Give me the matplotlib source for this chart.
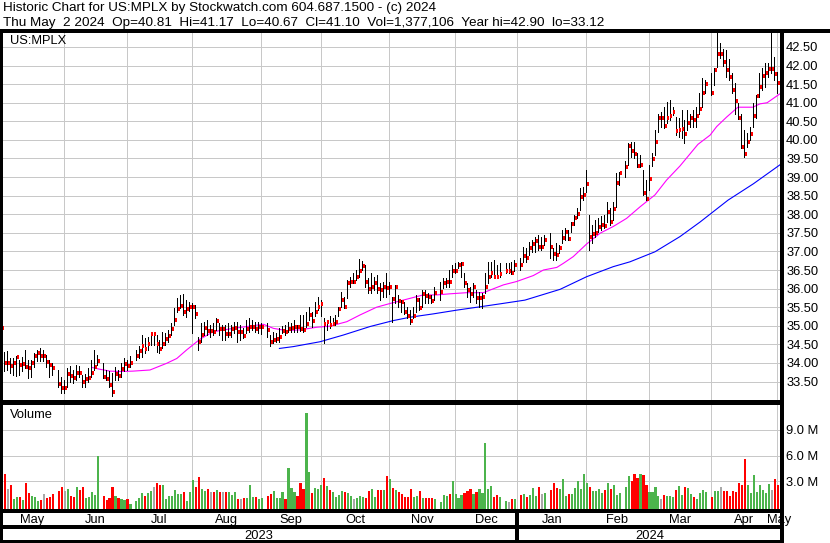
import numpy as np
import pandas as pd
import matplotlib
matplotlib.use('Agg')
import matplotlib.pyplot as plt
from matplotlib.transforms import blended_transform_factory

plt.rcParams['font.family'] = ['Liberation Sans', 'DejaVu Sans']

# one slot per weekday, May 3 2023 .. May 2 2024 (None = market holiday)
days = pd.bdate_range('2023-05-03', '2024-05-02')

close = [
    # May 2023
    34.95, 33.99, 33.99, 33.93, 33.99, 34.17, 33.95, 33.97, 33.90, 33.87, 33.99, 34.20, 34.26, 34.20, 34.20, 34.03, 33.94, 33.86, None, 33.43, 33.33,
    # Jun
    33.33, 33.70, 33.65, 33.60, 33.74, 33.72, 33.50, 33.58, 33.60, 33.74, 33.88, 34.06, None, 33.63, 33.58, 33.41, 33.23, 33.69, 33.66, 33.84, 33.97, 33.92,
    # Jul
    34.01, None, 34.19, 34.32, 34.46, 34.37, 34.51, 34.78, 34.78, 34.51, 34.37, 34.51, 34.64, 34.73, 34.91, 35.15, 35.45, 35.53, 35.36, 35.45, 35.50,
    # Aug
    35.51, 35.33, 34.55, 34.76, 34.94, 34.87, 34.87, 34.82, 35.13, 34.91, 34.91, 34.78, 34.79, 34.91, 34.94, 34.83, 34.83, 34.72, 34.92, 34.96, 34.98, 34.90, 34.96,
    # Sep
    34.98, None, 34.89, 34.57, 34.62, 34.64, 34.69, 34.87, 34.84, 34.91, 34.93, 34.98, 34.96, 34.90, 34.88, 35.05, 35.29, 35.13, 35.36, 35.51, 35.59,
    # Oct
    35.05, 35.10, 35.02, 35.06, 35.11, 35.45, 35.68, 35.51, 36.14, 36.19, 36.19, 36.30, 36.46, 36.61, 36.18, 35.98, 36.03, 36.14, 35.98, 35.95, 36.03, 36.01,
    # Nov
    36.05, 35.71, 36.03, 35.67, 35.65, 35.38, 35.26, 35.14, 35.26, 35.69, 35.47, 35.85, 35.80, 35.77, 35.67, 35.87, None, 35.92, 36.14, 36.19, 36.17, 36.46,
    # Dec
    36.47, 36.64, 36.66, 36.14, 35.96, 35.85, 36.05, 35.75, 35.76, 35.78, 36.05, 36.30, 36.43, 36.32, 36.30, 36.39, None, 36.48, 36.48, 36.41, 36.64,
    # Jan 2024
    None, 36.63, 36.88, 36.83, 37.10, 37.20, 37.29, 37.13, 37.13, 37.31, None, 37.13, 36.93, 36.90, 37.08, 37.37, 37.53, 37.34, 37.73, 37.89, 38.01, 38.47, 38.53,
    # Feb
    38.81, 37.40, 37.47, 37.49, 37.65, 37.70, 37.69, 38.05, 37.79, 38.13, 38.85, 39.10, None, 39.28, 39.84, 39.70, 39.62, 39.31, 39.33, 38.58, 38.41,
    # Mar
    38.95, 39.48, 39.95, 40.58, 40.58, 40.37, 40.60, 40.64, 40.76, 40.25, 40.28, 40.30, 40.16, 40.46, 40.58, 40.53, 40.64, 40.84, 41.27, 41.50, None,
    # Apr
    41.27, 41.88, 42.30, 42.30, 42.10, 41.88, 41.70, 41.34, 41.06, 40.60, 39.82, 39.62, 39.95, 40.16, 40.64, 41.18, 41.43, 41.73, 41.81, 41.90, 41.90, 41.77,
    # May
    41.54, 41.10,
]

high = [
    35.15, 34.30, 34.33, 34.12, 34.12, 34.19, 34.08, 34.15, 34.35, 34.08, 34.08, 34.28, 34.35, 34.39, 34.35, 34.21, 34.08, 33.99, None, 33.81, 33.63,
    33.54, 33.86, 33.92, 33.81, 33.95, 33.92, 33.68, 33.70, 33.86, 34.08, 34.35, 34.21, None, 34.01, 33.81, 33.77, 33.72, 33.88, 33.81, 33.99, 34.12, 34.08,
    34.19, None, 34.35, 34.46, 34.75, 34.66, 34.71, 34.84, 34.84, 34.75, 34.62, 34.84, 34.80, 34.89, 35.07, 35.47, 35.74, 35.83, 35.85, 35.69, 35.65,
    35.60, 35.55, 34.70, 35.07, 35.11, 35.15, 35.02, 35.07, 35.20, 35.07, 35.02, 35.02, 35.07, 35.02, 35.11, 35.11, 35.02, 34.93, 35.15, 35.20, 35.15, 35.11, 35.11,
    35.07, None, 35.08, 34.75, 34.84, 34.80, 34.93, 34.99, 35.02, 35.11, 35.07, 35.15, 35.02, 35.29, 35.29, 35.38, 35.51, 35.38, 35.65, 35.78, 35.70,
    35.20, 35.15, 35.25, 35.20, 35.29, 35.51, 35.92, 35.78, 36.23, 36.32, 36.41, 36.50, 36.79, 36.75, 36.63, 36.28, 36.41, 36.32, 36.37, 36.14, 36.19, 36.41,
    36.19, 35.78, 36.10, 35.83, 35.69, 35.65, 35.51, 35.42, 35.51, 35.83, 35.74, 35.96, 35.96, 35.87, 35.83, 36.05, None, 36.19, 36.28, 36.28, 36.50, 36.63,
    36.68, 36.72, 36.72, 36.41, 36.14, 36.05, 36.14, 35.96, 35.92, 35.87, 36.41, 36.72, 36.72, 36.77, 36.63, 36.68, None, 36.68, 36.68, 36.72, 36.77,
    None, 36.81, 37.13, 37.08, 37.26, 37.31, 37.40, 37.44, 37.40, 37.44, None, 37.49, 37.08, 37.22, 37.17, 37.58, 37.62, 37.58, 37.80, 37.98, 38.16, 38.70, 38.74,
    39.19, 37.98, 37.71, 37.85, 37.89, 37.94, 37.98, 38.34, 38.16, 38.34, 39.10, 39.15, None, 39.42, 39.91, 39.95, 39.95, 39.64, 39.60, 39.19, 38.92,
    39.33, 39.65, 40.27, 40.71, 40.76, 40.89, 41.03, 41.07, 40.89, 40.62, 40.58, 40.81, 40.54, 40.81, 40.71, 40.81, 40.89, 41.25, 41.66, 41.61, None,
    41.79, 41.93, 42.90, 42.60, 42.45, 42.42, 42.19, 41.79, 41.52, 41.00, 40.71, 40.27, 40.18, 40.36, 40.98, 41.21, 41.79, 41.93, 42.06, 42.06, 42.87, 42.24,
    41.84, 41.17,
]

low = [
    34.70, 33.77, 33.81, 33.72, 33.68, 33.65, 33.68, 33.77, 33.86, 33.59, 33.63, 33.90, 34.04, 34.04, 34.04, 33.88, 33.61, 33.68, None, 33.36, 33.18,
    33.18, 33.36, 33.50, 33.45, 33.54, 33.61, 33.36, 33.34, 33.50, 33.63, 33.80, 33.94, None, 33.59, 33.54, 33.36, 33.12, 33.54, 33.54, 33.63, 33.77, 33.81,
    33.88, None, 34.08, 34.12, 34.17, 34.26, 34.35, 34.48, 34.48, 34.30, 34.26, 34.39, 34.48, 34.57, 34.75, 35.02, 35.38, 35.47, 35.29, 35.24, 35.40,
    34.80, 35.20, 34.35, 34.57, 34.75, 34.75, 34.70, 34.75, 34.89, 34.75, 34.62, 34.62, 34.70, 34.70, 34.80, 34.57, 34.62, 34.66, 34.80, 34.84, 34.89, 34.84, 34.80,
    34.78, None, 34.71, 34.46, 34.53, 34.55, 34.57, 34.80, 34.75, 34.84, 34.84, 34.84, 34.84, 34.85, 34.84, 34.98, 35.16, 34.98, 35.25, 35.42, 35.25,
    34.53, 34.89, 34.93, 35.02, 35.02, 35.25, 35.51, 35.47, 35.74, 36.05, 36.14, 36.23, 36.32, 36.50, 36.05, 35.87, 35.87, 35.96, 35.87, 35.70, 35.78, 35.78,
    35.85, 35.11, 35.60, 35.51, 35.38, 35.33, 35.20, 35.06, 35.20, 35.38, 35.42, 35.51, 35.60, 35.60, 35.62, 35.69, None, 35.69, 36.01, 36.05, 36.05, 36.32,
    36.41, 36.55, 36.32, 36.05, 35.78, 35.65, 35.78, 35.60, 35.51, 35.47, 35.87, 36.14, 36.32, 36.28, 36.28, 36.32, None, 36.41, 36.41, 36.38, 36.46,
    None, 36.50, 36.72, 36.72, 36.90, 36.99, 36.99, 37.04, 37.04, 37.17, None, 36.81, 36.77, 36.77, 36.95, 37.22, 37.31, 37.31, 37.53, 37.71, 37.89, 38.12, 38.38,
    38.61, 37.04, 37.22, 37.40, 37.53, 37.58, 37.62, 37.80, 37.71, 37.85, 38.20, 38.79, None, 39.01, 39.33, 39.55, 39.50, 39.28, 39.28, 38.52, 38.38,
    38.65, 39.30, 39.59, 40.22, 40.36, 40.31, 40.45, 40.54, 40.67, 40.13, 40.09, 40.04, 39.91, 40.27, 40.36, 40.36, 40.36, 40.71, 40.89, 41.25, None,
    41.21, 41.48, 41.97, 42.20, 42.00, 41.70, 41.61, 41.25, 40.71, 40.55, 39.77, 39.55, 39.82, 40.00, 40.36, 40.58, 41.16, 41.34, 41.43, 41.70, 41.80, 41.60,
    41.25, 40.67,
]

# volume, millions of units
volume = [
    3.62, 3.85, 2.10, 2.57, 0.93, 1.17, 1.17, 0.86, 2.80, 1.63, 1.28, 1.17, 0.70, 0.82, 1.52, 1.05, 1.17, 1.52, None, 1.87, 2.33,
    1.90, 2.10, 1.28, 1.17, 2.33, 1.98, 2.33, 1.05, 1.17, 1.75, 1.40, 6.00, None, 1.28, 0.82, 1.05, 2.33, 1.28, 1.05, 0.93, 0.82, 0.93,
    0.35, None, 0.70, 1.05, 1.63, 1.28, 1.63, 1.87, 2.33, 2.80, 2.57, 2.57, 0.93, 1.28, 1.28, 1.98, 1.52, 1.52, 1.75, 0.70, 1.75,
    3.15, 2.33, 3.50, 2.10, 1.87, 2.10, 1.75, 1.75, 1.98, 1.75, 1.75, 1.75, 1.75, 1.40, 1.75, 0.93, 0.93, 1.05, 1.05, 2.57, 1.17, 1.17, 0.93,
    1.05, None, 1.28, 1.52, 1.87, 1.05, 1.05, 1.75, 0.93, 4.55, 2.22, 1.75, 1.28, 2.80, 2.10, 10.97, 4.08, 1.63, 2.22, 2.10, 2.57,
    3.38, 2.45, 1.98, 1.75, 1.17, 1.40, 1.87, 1.75, 1.63, 1.28, 0.93, 1.05, 1.28, 1.17, 1.05, 1.87, 2.10, 1.17, 1.98, 1.98, 1.98, 3.62,
    3.27, 2.22, 1.98, 1.75, 1.52, 1.17, 1.17, 2.10, 1.17, 1.28, 1.87, 1.05, 1.05, 1.05, 1.05, 0.93, None, 0.58, 1.40, 1.28, 1.52, 3.03,
    1.52, 1.05, 1.40, 1.63, 1.87, 2.10, 1.52, 1.75, 2.10, 1.63, 7.47, 2.10, 2.45, 1.17, 1.40, 1.20, None, 0.70, 0.58, 0.93, 0.93,
    None, 1.40, 1.52, 1.17, 1.40, 2.22, 1.28, 2.33, 1.52, 1.63, None, 1.98, 2.80, 2.22, 2.10, 3.27, 1.28, 1.52, 1.52, 2.22, 3.03, 2.10, 3.85,
    2.80, 2.33, 1.87, 1.87, 2.10, 1.63, 1.98, 2.80, 2.10, 2.57, 1.40, 1.60, None, 2.33, 3.62, 3.03, 3.85, 3.38, 3.85, 3.73, 2.57,
    1.75, 1.75, 2.33, 1.28, 0.93, 1.40, 1.28, 1.28, 1.17, 1.98, 2.45, 1.40, 2.33, 2.22, 1.52, 1.17, 0.93, 1.63, 1.98, 1.75, None,
    1.17, 1.87, 1.87, 2.33, 1.87, 1.87, 1.28, 1.87, 1.75, 2.80, 2.57, 5.60, 2.57, 1.63, 3.73, 1.75, 2.57, 1.98, 1.63, 2.68, 1.98, 3.27,
    2.57, 1.38,
]

# moving averages (x = weekday slot)
ma_fast_x = [30.3, 33.0, 36.4, 39.8, 44.1, 49.8, 55.4, 58.8, 62.1, 66.6, 71.0, 77.7, 83.3, 87.8, 91.2, 95.6,
             100.1, 105.7, 110.2, 115.8, 120.2, 125.8, 130.3, 134.7, 141.4, 145.9, 150.4, 156.0, 161.6, 163.8,
             168.3, 172.7, 178.3, 181.7, 186.2, 188.4, 191.7, 196.2, 200.7, 205.1, 209.6, 214.1, 219.1, 223.0,
             227.5, 233.5, 237.6, 239.8, 243.2, 246.9, 251.9, 254.3, 256.7, 261.0]
ma_fast = [33.88, 33.83, 33.78, 33.77, 33.78, 33.81, 33.99, 34.12, 34.35, 34.64, 34.84, 34.93, 34.99, 35.04, 34.93, 34.87,
           34.89, 34.96, 34.99, 35.11, 35.29, 35.50, 35.60, 35.69, 35.83, 35.83, 35.86, 35.89, 35.89, 35.96,
           36.10, 36.19, 36.35, 36.50, 36.57, 36.68, 36.86, 37.20, 37.49, 37.67, 37.89, 38.20, 38.52, 38.92,
           39.30, 39.88, 40.13, 40.36, 40.62, 40.88, 40.88, 40.97, 41.00, 41.24]
ma_slow_x = [93.2, 97.9, 106.8, 114.6, 123.6, 131.4, 137.0, 144.8, 152.6, 160.4, 167.2, 175.5, 187.3, 196.2,
             205.1, 210.7, 219.1, 227.5, 234.2, 243.6, 252.1, 261.0]
ma_slow = [34.39, 34.44, 34.57, 34.75, 34.98, 35.14, 35.23, 35.32, 35.42, 35.51, 35.59, 35.69, 35.98, 36.32,
           36.59, 36.72, 36.99, 37.40, 37.79, 38.38, 38.82, 39.33]

title1 = 'Historic Chart for US:MPLX by Stockwatch.com 604.687.1500 - (c) 2024'
title2 = 'Thu May  2 2024  Op=40.81  Hi=41.17  Lo=40.67  Cl=41.10  Vol=1,377,106  Year hi=42.90  lo=33.12'

c = np.array(close, dtype=float)
h = np.array(high, dtype=float)
l = np.array(low, dtype=float)
v = np.array(volume, dtype=float)
x = np.arange(len(days))
ok = ~np.isnan(c)

W, H = 830, 543
fig = plt.figure(figsize=(W / 100, H / 100), dpi=100)

def px_axes(left, top, right, bottom):
    return fig.add_axes([left / W, 1 - bottom / H, (right - left) / W, (bottom - top) / H])

XLIM = (-0.134, 261.52)
GRID = '#c8c8c8'
FS = 9.3
TFS = 9.7

ax_p = px_axes(1, 31, 781.5, 400)
ax_v = px_axes(1, 403, 781.5, 510)
for ax in (ax_p, ax_v):
    ax.set_xlim(*XLIM)
    ax.set_xticks([])
    for s in ax.spines.values():
        s.set_visible(False)
    ax.yaxis.tick_right()
    ax.tick_params(axis='y', length=0, pad=3.3, labelsize=FS)
    ax.yaxis.grid(True, color=GRID, lw=0.6, antialiased=False)
    ax.set_axisbelow(True)

# month boundaries (weekend month starts fall on the last trading day before)
bounds = []
for m in pd.date_range('2023-06-01', '2024-05-01', freq='MS'):
    pos = days.searchsorted(m)
    if m.weekday() >= 5:
        pos -= 1
    bounds.append(pos)
for b in bounds:
    ax_p.axvline(b, color=GRID, lw=0.6, zorder=0.5, antialiased=False)
    ax_v.axvline(b, color=GRID, lw=0.6, zorder=0.5, antialiased=False)

# price panel
ax_p.set_ylim(33.003, 42.93)
ax_p.set_yticks(np.arange(33.5, 42.51, 0.5))
ax_p.set_yticklabels(['%.2f' % t for t in np.arange(33.5, 42.51, 0.5)])
ax_p.plot(ma_fast_x, ma_fast, color='#ff00ff', lw=0.8, zorder=2)
ax_p.plot(ma_slow_x, ma_slow, color='#0000ff', lw=0.8, zorder=2)
ax_p.vlines(x[ok], l[ok], h[ok], colors='black', lw=0.6, antialiased=False, zorder=3)
ax_p.hlines(c[ok], x[ok] + 0.3, x[ok] + 0.97, colors='#ff0000', lw=1.55, antialiased=False, zorder=4)
ax_p.text(3, 42.93 - 0.1, 'US:MPLX', fontsize=FS, va='top', ha='left')

# volume panel, coloured by the close-to-close move
vlo, vhi = -0.35, 12.14
ax_v.set_ylim(vlo, vhi)
ax_v.set_yticks([3, 6, 9])
ax_v.set_yticklabels(['3.0 M', '6.0 M', '9.0 M'])
cols = []
prev = np.nan
for i in range(len(c)):
    if np.isnan(c[i]):
        cols.append('none')
        continue
    d = c[i] - prev if not np.isnan(prev) else 0.0
    cols.append('#4cb44c' if d > 0.004 else ('#ff0000' if d < -0.004 else '#a8a8a8'))
    prev = c[i]
cols = np.array(cols)
ax_v.bar(x[ok] - 0.1, v[ok] - vlo, bottom=vlo, width=0.72, align='edge',
         color=cols[ok], lw=0, antialiased=False, zorder=2)
ax_v.text(3, vhi - 0.7, 'Volume', fontsize=FS, va='top', ha='left')

# frame, title and date rows drawn in pixel space
ax_o = fig.add_axes([0, 0, 1, 1], facecolor='none')
ax_o.set_xlim(0, W)
ax_o.set_ylim(H, 0)
ax_o.axis('off')
ax_o.set_zorder(10)
lk = dict(color='black', antialiased=False, solid_capstyle='butt')
ax_o.plot([0, W], [30.5, 30.5], lw=1.6, **lk)
ax_o.plot([1.2, 1.2], [30, H], lw=1.8, **lk)
ax_o.plot([782.3, 782.3], [30, H], lw=1.6, **lk)
ax_o.plot([0, 782], [400.5, 400.5], lw=0.9, **lk)
ax_o.plot([0, 782], [402.5, 402.5], lw=0.9, **lk)
ax_o.plot([0, 782], [510.8, 510.8], lw=1.6, **lk)
ax_o.plot([0, 782], [527, 527], lw=1.6, **lk)
ax_o.plot([0, 782], [541.8, 541.8], lw=1.6, **lk)

ax_o.text(3, 11, title1, fontsize=TFS, va='baseline', ha='left')
ax_o.text(3, 26, title2, fontsize=TFS, va='baseline', ha='left')

tr = blended_transform_factory(ax_p.transData, ax_o.transData)
months = ['May', 'Jun', 'Jul', 'Aug', 'Sep', 'Oct', 'Nov', 'Dec', 'Jan', 'Feb', 'Mar', 'Apr', 'May']
edges = [XLIM[0]] + bounds + [XLIM[1]]
for i, name in enumerate(months):
    ax_o.text((edges[i] + edges[i + 1]) / 2, 523, name, transform=tr, fontsize=FS,
              ha='center', va='baseline', zorder=1)
jan = days.searchsorted(pd.Timestamp('2024-01-01'))
ax_o.plot([jan, jan], [510, H], transform=tr, lw=1.6, **lk)
ax_o.text((XLIM[0] + jan) / 2, 539, '2023', transform=tr, fontsize=FS, ha='center', va='baseline')
ax_o.text((jan + XLIM[1]) / 2, 539, '2024', transform=tr, fontsize=FS, ha='center', va='baseline')

fig.savefig('out.png', dpi=100)
